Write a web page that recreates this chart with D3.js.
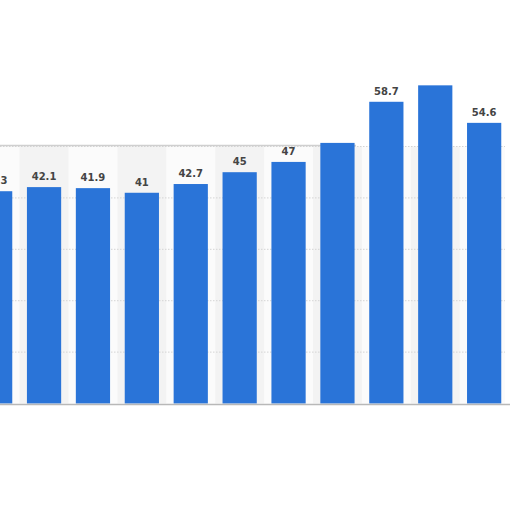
<!DOCTYPE html>
<html><head><meta charset="utf-8">
<script src="https://cdn.jsdelivr.net/npm/d3@7"></script>
<style>html,body{margin:0;padding:0;background:#fff;}svg{display:block;}</style>
</head><body>
<svg id="chart" width="512" height="512"></svg>
<script>
const categories = ["2010","2011","2012","2013","2014","2015","2016","2017","2018","2019","2020"];
const values = [41.3, 42.1, 41.9, 41, 42.7, 45, 47, 50.7, 58.7, 61.9, 54.6];
const labels = ["41.3","42.1","41.9","41","42.7","45","47","","58.7","","54.6"];
const gridTicks = [10, 20, 30, 40, 50];

const svg = d3.select("#chart");
const x = d3.scaleBand().domain(categories).range([-29.3, 508.6]).paddingInner(0.3).paddingOuter(0.15);
const y = d3.scaleLinear().domain([0, 50]).range([403.5, 146.5]);
const W = 512;

// plot background with alternating column bands
const bg = svg.append("g");
bg.append("rect").attr("x", 0).attr("y", y(50)).attr("width", 505).attr("height", y(0) - y(50)).attr("fill", "#fbfbfb");
bg.selectAll("rect.band").data(categories.filter((d, i) => i % 2 === 1)).join("rect")
  .attr("class", "band")
  .attr("x", d => x(d) - x.step() * 0.15)
  .attr("y", y(50)).attr("width", x.step()).attr("height", y(0) - y(50))
  .attr("fill", "#f3f3f3");

// gridlines
svg.append("g").selectAll("line").data(gridTicks).join("line")
  .attr("x1", 0).attr("x2", 505)
  .attr("y1", d => y(d)).attr("y2", d => y(d))
  .attr("stroke", "#d4d4d4").attr("stroke-width", 1).attr("stroke-dasharray", "1.5,1.5");

// top border of plot area
svg.append("line").attr("x1", 0).attr("x2", 356).attr("y1", y(50) - 1).attr("y2", y(50) - 1)
  .attr("stroke", "#cfcfcf").attr("stroke-width", 1.5);

// bars
svg.append("g").selectAll("rect").data(categories).join("rect")
  .attr("x", d => x(d)).attr("width", x.bandwidth())
  .attr("y", (d, i) => y(values[i])).attr("height", (d, i) => y(0) - y(values[i]))
  .attr("fill", "#2a74d8");

// baseline
svg.append("line").attr("x1", 0).attr("x2", 510).attr("y1", y(0) + 1).attr("y2", y(0) + 1)
  .attr("stroke", "#b8b8b8").attr("stroke-width", 1.5);

// value labels
svg.append("g").selectAll("text").data(categories).join("text")
  .attr("x", d => x(d) + x.bandwidth() / 2)
  .attr("y", (d, i) => y(values[i]) - 7)
  .attr("text-anchor", "middle")
  .attr("font-family", "'DejaVu Sans', sans-serif")
  .attr("font-weight", "bold").attr("font-size", 10)
  .attr("fill", "#444")
  .text((d, i) => labels[i]);
</script>
</body></html>
